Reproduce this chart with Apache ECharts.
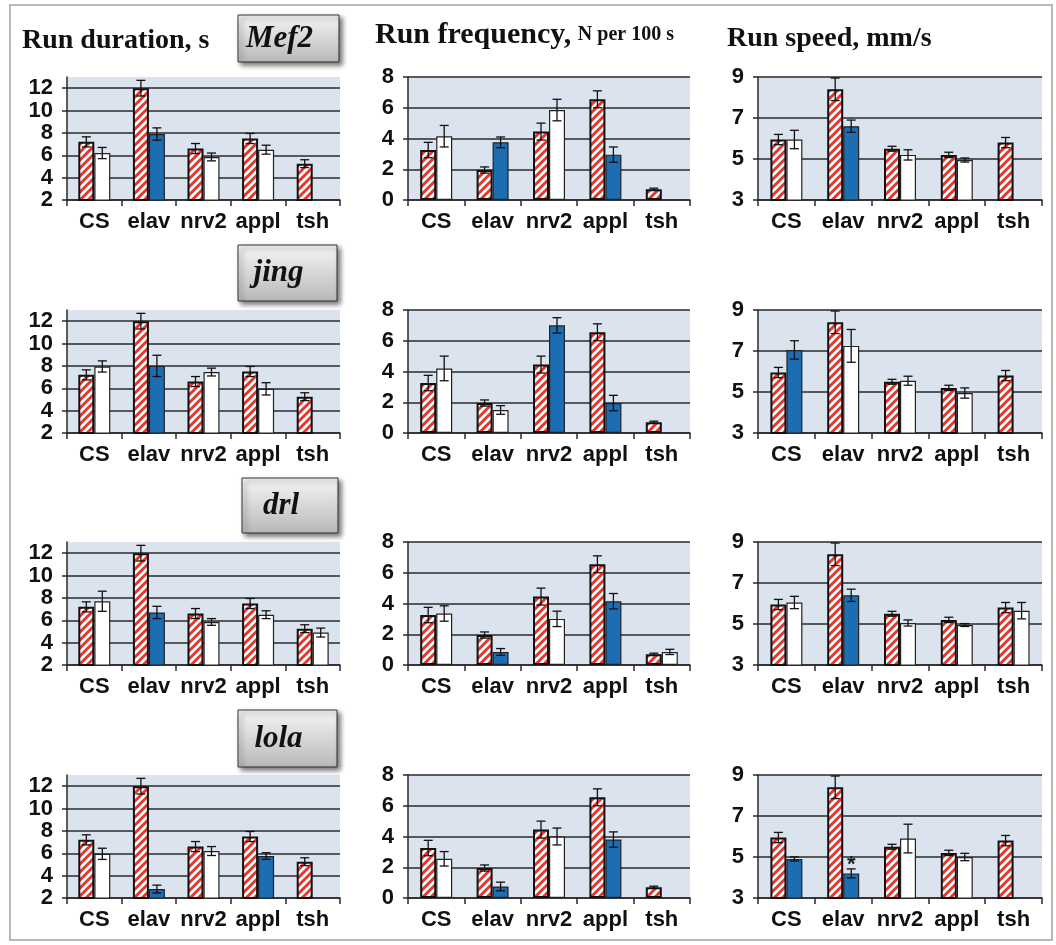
<!DOCTYPE html>
<html>
<head>
<meta charset="utf-8">
<script src="https://cdn.jsdelivr.net/npm/echarts@6.0.0/dist/echarts.min.js"></script>
<style>
  body { margin: 0; background: #fff; }
  #main { width: 1056px; height: 945px; }
</style>
</head>
<body>
<div id="main"></div>
<script>
// categories
var cats = ['CS', 'elav', 'nrv2', 'appl', 'tsh'];
var genes = ['Mef2', 'jing', 'drl', 'lola'];

// control (hatched) bars, same in every row
var ctrlDur = [7.2, 12.0, 6.6, 7.5, 5.25];
var ctrlDurErr = [0.45, 0.7, 0.45, 0.45, 0.35];
var ctrlFreq = [3.25, 1.95, 4.45, 6.55, 0.7];
var ctrlFreqErr = [0.5, 0.2, 0.55, 0.55, 0.07];
var ctrlSpeed = [5.95, 8.4, 5.5, 5.2, 5.8];
var ctrlSpeedErr = [0.25, 0.55, 0.12, 0.13, 0.25];

// Mef2
var mef2Dur = [6.2, 7.9, 5.85, 6.5, null];
var mef2DurErr = [0.5, 0.55, 0.35, 0.4, null];
var mef2DurKind = ['w', 'b', 'w', 'w', null];
var mef2Freq = [4.15, 3.75, 5.85, 2.95, null];
var mef2FreqErr = [0.7, 0.35, 0.7, 0.5, null];
var mef2FreqKind = ['w', 'b', 'w', 'b', null];
var mef2Speed = [5.95, 6.6, 5.2, 4.95, null];
var mef2SpeedErr = [0.45, 0.3, 0.25, 0.1, null];
var mef2SpeedKind = ['w', 'b', 'w', 'w', null];

// jing
var jingDur = [7.95, 8.0, 7.45, 5.95, null];
var jingDurErr = [0.5, 0.95, 0.35, 0.55, null];
var jingDurKind = ['w', 'b', 'w', 'w', null];
var jingFreq = [4.2, 1.5, 7.0, 1.95, null];
var jingFreqErr = [0.8, 0.28, 0.5, 0.5, null];
var jingFreqKind = ['w', 'w', 'b', 'b', null];
var jingSpeed = [7.05, 7.25, 5.55, 4.95, null];
var jingSpeedErr = [0.45, 0.8, 0.22, 0.25, null];
var jingSpeedKind = ['b', 'w', 'w', 'w', null];

// drl
var drlDur = [7.7, 6.7, 5.85, 6.5, 4.9];
var drlDurErr = [0.9, 0.55, 0.3, 0.35, 0.4];
var drlDurKind = ['w', 'b', 'w', 'w', 'w'];
var drlFreq = [3.35, 0.85, 3.0, 4.15, 0.85];
var drlFreqErr = [0.5, 0.22, 0.5, 0.5, 0.17];
var drlFreqKind = ['w', 'b', 'w', 'b', 'w'];
var drlSpeed = [6.05, 6.4, 5.05, 4.95, 5.65];
var drlSpeedErr = [0.3, 0.3, 0.15, 0.07, 0.4];
var drlSpeedKind = ['w', 'b', 'w', 'w', 'w'];

// lola
var lolaDur = [5.95, 2.8, 6.2, 5.75, null];
var lolaDurErr = [0.5, 0.35, 0.4, 0.3, null];
var lolaDurKind = ['w', 'b', 'w', 'b', null];
var lolaFreq = [2.55, 0.75, 4.0, 3.8, null];
var lolaFreqErr = [0.47, 0.28, 0.55, 0.5, null];
var lolaFreqKind = ['w', 'b', 'w', 'b', null];
var lolaSpeed = [4.9, 4.2, 5.9, 5.0, null];
var lolaSpeedErr = [0.1, 0.22, 0.7, 0.18, null];
var lolaSpeedKind = ['b', 'b', 'w', 'w', null];
var lolaSpeedStar = [0, 1, 0, 0, 0];

var RED = '#e8362c';
var BLUE = '#1d6db3';
var BG = '#dbe3ee';
var DARK = '#2a2a2a';
var BAR_W = 16;

var rowSets = [
  [[mef2Dur, mef2DurErr, mef2DurKind], [mef2Freq, mef2FreqErr, mef2FreqKind], [mef2Speed, mef2SpeedErr, mef2SpeedKind]],
  [[jingDur, jingDurErr, jingDurKind], [jingFreq, jingFreqErr, jingFreqKind], [jingSpeed, jingSpeedErr, jingSpeedKind]],
  [[drlDur, drlDurErr, drlDurKind], [drlFreq, drlFreqErr, drlFreqKind], [drlSpeed, drlSpeedErr, drlSpeedKind]],
  [[lolaDur, lolaDurErr, lolaDurKind], [lolaFreq, lolaFreqErr, lolaFreqKind], [lolaSpeed, lolaSpeedErr, lolaSpeedKind, lolaSpeedStar]]
];
var ctrlSets = [[ctrlDur, ctrlDurErr], [ctrlFreq, ctrlFreqErr], [ctrlSpeed, ctrlSpeedErr]];
var yRanges = [[2, 13], [0, 8], [3, 9]];

var colLeft = [67, 408, 758];
var colWidth = [273, 282, 284];
var rowTop = [77, 310, 542, 775];
var plotH = 123;

// red diagonal hatch
function makeHatch() {
  var s = 8;
  var c = document.createElement('canvas');
  c.width = s; c.height = s;
  var ctx = c.getContext('2d');
  ctx.fillStyle = '#fff';
  ctx.fillRect(0, 0, s, s);
  ctx.strokeStyle = RED;
  ctx.lineWidth = 3;
  ctx.beginPath();
  ctx.moveTo(0, s); ctx.lineTo(s, 0);
  ctx.moveTo(-s / 2, s / 2); ctx.lineTo(s / 2, -s / 2);
  ctx.moveTo(s / 2, 3 * s / 2); ctx.lineTo(3 * s / 2, s / 2);
  ctx.stroke();
  return c;
}
var hatch = { image: makeHatch(), repeat: 'repeat' };

function errRender(params, api) {
  var i = api.value(0), v = api.value(1), e = api.value(2), side = api.value(3);
  var top = api.coord([i, v + e]);
  var bot = api.coord([i, v - e]);
  var x = top[0] + side * BAR_W / 2;
  var cap = 4.5;
  var st = { stroke: '#111', lineWidth: 1.3 };
  var children = [
    { type: 'line', shape: { x1: x, y1: top[1], x2: x, y2: bot[1] }, style: st },
    { type: 'line', shape: { x1: x - cap, y1: top[1], x2: x + cap, y2: top[1] }, style: st },
    { type: 'line', shape: { x1: x - cap, y1: bot[1], x2: x + cap, y2: bot[1] }, style: st }
  ];
  if (api.value(4) === 1) {
    children.push({ type: 'text', style: { text: '*', x: x, y: top[1] - 4, align: 'center', verticalAlign: 'middle',
      font: 'bold 22px "Liberation Sans", Arial, sans-serif', fill: '#222' } });
  }
  return { type: 'group', children: children };
}

var grids = [], xAxes = [], yAxes = [], series = [];
var k = 0;
for (var r = 0; r < 4; r++) {
  for (var c = 0; c < 3; c++) {
    var set = rowSets[r][c];
    var ctrl = ctrlSets[c];
    grids.push({ left: colLeft[c], top: rowTop[r], width: colWidth[c], height: plotH,
      show: true, backgroundColor: BG, borderWidth: 0, containLabel: false });
    xAxes.push({
      type: 'category', gridIndex: k, data: cats,
      axisLine: { lineStyle: { color: DARK, width: 1.5 } },
      axisTick: { show: true, length: 6, lineStyle: { color: DARK, width: 1.5 } },
      axisLabel: { interval: 0, margin: 11, color: '#111', fontSize: 22, fontWeight: 'bold',
        fontFamily: '"Liberation Sans", Arial, sans-serif' }
    });
    yAxes.push({
      type: 'value', gridIndex: k, min: yRanges[c][0], max: yRanges[c][1], interval: 2,
      axisLine: { show: true, lineStyle: { color: DARK, width: 1.5 } },
      axisTick: { show: true, length: 5, lineStyle: { color: DARK, width: 1.5 } },
      axisLabel: { margin: 14, color: '#111', fontSize: 22, fontWeight: 'bold', showMaxLabel: c !== 0,
        fontFamily: '"Liberation Sans", Arial, sans-serif' },
      splitLine: { show: true, showMaxLine: c !== 0, lineStyle: { color: DARK, width: 1.5 } }
    });
    series.push({
      type: 'bar', xAxisIndex: k, yAxisIndex: k, data: ctrl[0], barWidth: BAR_W, barGap: '0%',
      itemStyle: { color: hatch, borderColor: '#111', borderWidth: 2 }, silent: true, animation: false
    });
    series.push({
      type: 'bar', xAxisIndex: k, yAxisIndex: k, barWidth: BAR_W, barGap: '0%',
      data: set[0].map(function (v, i) {
        return v == null ? null : { value: v, itemStyle: { color: set[2][i] === 'b' ? BLUE : '#fff' } };
      }),
      itemStyle: { borderColor: '#222', borderWidth: 1.2 }, silent: true, animation: false
    });
    var errData = [];
    ctrl[0].forEach(function (v, i) { errData.push([i, v, ctrl[1][i], -1, 0]); });
    set[0].forEach(function (v, i) {
      if (v != null) errData.push([i, v, set[1][i], 1, set[3] ? set[3][i] : 0]);
    });
    series.push({
      type: 'custom', xAxisIndex: k, yAxisIndex: k, renderItem: errRender, data: errData,
      z: 5, silent: true, animation: false
    });
    k++;
  }
}

// titles, gene boxes and frame
var serif = '"Liberation Serif", "Times New Roman", serif';
var boxes = [[238, 15, 101, 47], [238, 245, 99, 56], [242, 478, 96, 55], [238, 710, 99, 57]];
var graphics = [
  { type: 'rect', shape: { x: 10, y: 5, width: 1042, height: 935 }, style: { fill: 'none', stroke: '#b8b8b8', lineWidth: 2 }, z: 0 },
  { type: 'text', x: 22, y: 41, style: { text: 'Run duration, s', font: 'bold 28px ' + serif, fill: '#111', verticalAlign: 'middle' } },
  { type: 'text', x: 375, y: 35, style: { text: '{a|Run frequency,}  {b|N per 100 s}', verticalAlign: 'middle', fill: '#111',
    rich: { a: { font: 'bold 30px ' + serif, fill: '#111' }, b: { font: 'bold 20px ' + serif, fill: '#111' } } } },
  { type: 'text', x: 727, y: 39, style: { text: 'Run speed, mm/s', font: 'bold 28px ' + serif, fill: '#111', verticalAlign: 'middle' } }
];
boxes.forEach(function (b, i) {
  graphics.push({
    type: 'rect', shape: { x: b[0], y: b[1], width: b[2], height: b[3] },
    style: {
      fill: new echarts.graphic.LinearGradient(0, 0, 0, 1, [{ offset: 0, color: '#f6f6f6' }, { offset: 1, color: '#b8b8b8' }]),
      stroke: '#333', lineWidth: 1, shadowBlur: 5, shadowOffsetX: 3, shadowOffsetY: 3, shadowColor: 'rgba(0,0,0,0.55)'
    }, z: 10
  });
  graphics.push({
    type: 'text', x: b[0] + b[2] / 2 - 9, y: b[1] + b[3] / 2, z: 11,
    style: { text: genes[i], font: 'italic bold 31px ' + serif, fill: '#111', align: 'center', verticalAlign: 'middle' }
  });
});

var myChart = echarts.init(document.getElementById('main'));
myChart.setOption({
  animation: false,
  grid: grids,
  xAxis: xAxes,
  yAxis: yAxes,
  series: series,
  graphic: graphics
});
</script>
</body>
</html>
